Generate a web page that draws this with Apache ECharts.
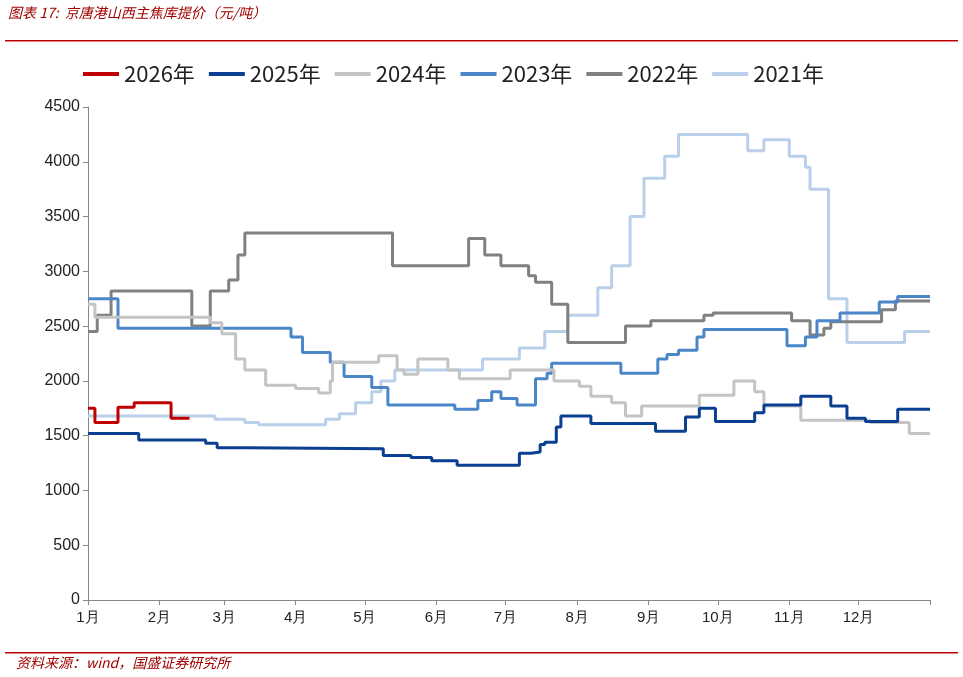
<!DOCTYPE html><html><head><meta charset="utf-8"><script src="https://cdn.jsdelivr.net/npm/echarts@6/dist/echarts.min.js"></script></head><body style="margin:0"><div id="c" style="width:963px;height:677px"></div><script>
const monthDays=[0,31,59,90,120,151,181,212,243,273,304,334];
const monthLabels=['1月','2月','3月','4月','5月','6月','7月','8月','9月','10月','11月','12月'];
const names=['2026年','2025年','2024年','2023年','2022年','2021年'];
const colors=['#C00000','#0B3F91','#C4C4C4','#4A86C8','#808080','#B9CFEA'];
const s2026=[[0,1750],[3,1620],[13,1760],[20,1800],[36,1660],[44,1660]];
const s2025=[[0,1520],[22,1460],[51,1430],[56,1390],[69,1380],[128,1320],[140,1300],[149,1270],[160,1230],[187,1340],[192,1350],[196,1420],[198,1440],[203,1580],[205,1680],[218,1610],[246,1540],[259,1670],[265,1750],[272,1630],[289,1710],[293,1780],[309,1860],[322,1770],[329,1660],[337,1630],[351,1740],[365,1740]];
const s2024=[[0,2700],[3,2580],[53,2530],[58,2430],[64,2200],[68,2100],[77,1960],[90,1930],[100,1890],[105,2000],[106,2170],[126,2230],[134,2100],[137,2060],[143,2200],[156,2100],[161,2020],[183,2100],[202,2000],[213,1950],[218,1860],[227,1800],[233,1680],[240,1770],[265,1870],[280,2000],[289,1900],[293,1770],[309,1640],[339,1620],[356,1520],[365,1520]];
const s2023=[[0,2750],[13,2480],[88,2400],[93,2260],[105,2170],[111,2040],[123,1940],[130,1780],[159,1740],[169,1820],[175,1900],[179,1840],[186,1780],[194,2020],[199,2070],[201,2160],[231,2070],[247,2200],[251,2240],[256,2280],[264,2400],[267,2470],[303,2320],[311,2400],[316,2550],[326,2620],[343,2720],[351,2770],[365,2770]];
const s2022=[[0,2450],[4,2600],[10,2820],[45,2500],[53,2820],[61,2920],[65,3150],[68,3350],[132,3050],[165,3300],[172,3150],[179,3050],[191,2960],[194,2900],[201,2700],[208,2350],[233,2500],[244,2550],[267,2600],[271,2620],[305,2550],[313,2420],[319,2480],[322,2540],[344,2650],[350,2730],[365,2730]];
const s2021=[[0,1680],[55,1650],[68,1620],[74,1600],[103,1650],[109,1700],[116,1800],[123,1900],[127,2000],[133,2100],[171,2200],[187,2300],[198,2450],[208,2600],[221,2850],[227,3050],[235,3500],[241,3850],[250,4050],[256,4250],[286,4100],[293,4200],[304,4050],[311,3950],[313,3750],[321,2750],[329,2350],[354,2450],[365,2450]];
const data=[s2026,s2025,s2024,s2023,s2022,s2021];
const series=names.map((n,i)=>({name:n,type:'line',step:'end',showSymbol:false,data:data[i],lineStyle:{width:3,color:colors[i]},itemStyle:{color:colors[i]},z:10-i})).reverse();
const chart=echarts.init(document.getElementById('c'));
chart.setOption({animation:false,
grid:{left:88,right:33,top:107,bottom:77},
legend:{data:names,top:58,left:78,itemWidth:36,itemHeight:4,itemGap:14,icon:'rect',textStyle:{fontSize:22,color:'#222',fontFamily:'Noto Sans CJK SC'}},
graphic:[
{type:'text',left:8,top:6,style:{text:'图表 17:  京唐港山西主焦库提价（元/吨）',fill:'#A00000',font:'italic 14px "Noto Sans CJK SC"'}},
{type:'rect',shape:{x:5,y:40,width:953,height:1.5},style:{fill:'#C00000'}},
{type:'rect',shape:{x:5,y:652,width:953,height:1.5},style:{fill:'#C00000'}},
{type:'text',left:16,top:656,style:{text:'资料来源：wind，国盛证券研究所',fill:'#A00000',font:'italic 14px "Noto Sans CJK SC"'}}],
xAxis:{type:'value',min:0,max:365,splitLine:{show:false},
axisLine:{lineStyle:{color:'#888'}},
axisTick:{customValues:monthDays.concat([365]),lineStyle:{color:'#888'}},
axisLabel:{customValues:monthDays,formatter:v=>monthLabels[monthDays.indexOf(v)],fontSize:15,color:'#222',margin:10}},
yAxis:{type:'value',min:0,max:4500,interval:500,splitLine:{show:false},
axisLine:{show:true,lineStyle:{color:'#888'}},axisTick:{show:true,lineStyle:{color:'#888'}},
axisLabel:{fontSize:16,color:'#222',formatter:v=>String(v)}},
series:series});
</script></body></html>
